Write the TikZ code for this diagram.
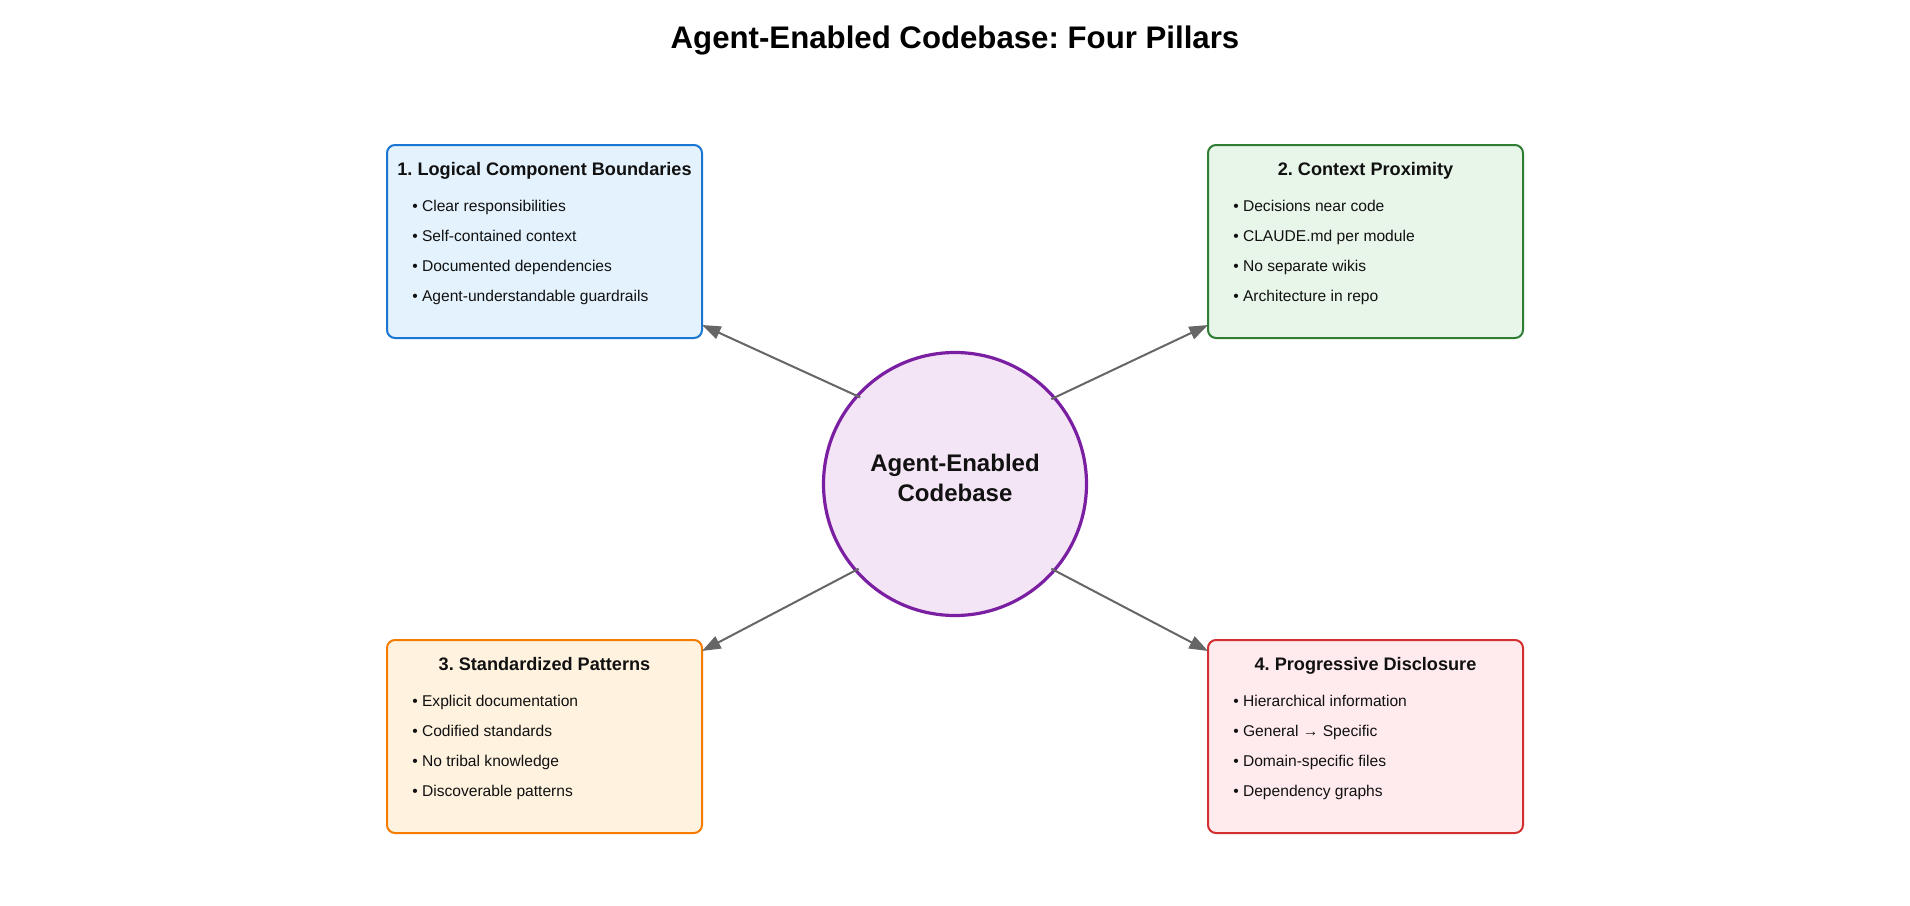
\documentclass[tikz,border=0pt]{standalone}
\usepackage{fontspec}
\setmainfont{Liberation Sans}
\usetikzlibrary{arrows.meta,calc}
\definecolor{blueb}{HTML}{1976D2}
\definecolor{bluef}{HTML}{E3F2FD}
\definecolor{greenb}{HTML}{2E7D32}
\definecolor{greenf}{HTML}{E8F5E9}
\definecolor{orangeb}{HTML}{F57C00}
\definecolor{orangef}{HTML}{FFF3E0}
\definecolor{redb}{HTML}{D32F2F}
\definecolor{redf}{HTML}{FFEBEE}
\definecolor{purpleb}{HTML}{7B1FA2}
\definecolor{purplef}{HTML}{F3E5F5}
\definecolor{linegray}{HTML}{666666}
\definecolor{txt}{HTML}{111111}
\frenchspacing
\begin{document}
\begin{tikzpicture}[x=0.75pt,y=-0.75pt,
  pillar/.style={draw, line width=1.5pt, rounded corners=6pt, minimum width=236.25pt, minimum height=144.75pt, inner sep=0pt, outer sep=0pt},
  hd/.style={font=\bfseries\fontsize{13.6pt}{16pt}\selectfont, anchor=base, inner sep=0pt, text=txt},
  itm/.style={font=\fontsize{11.7pt}{14pt}\selectfont, anchor=base west, inner sep=0pt, text=txt},
  ctext/.style={font=\bfseries\fontsize{18pt}{21pt}\selectfont, anchor=base, inner sep=0pt, text=txt},
  link/.style={draw=linegray, line width=1.5pt, shorten <=-2.5pt, -{Triangle[length=14pt,width=10pt]}}]
\fill[white] (0,0) rectangle (1910,906);
\useasboundingbox (0,0) rectangle (1910,906);

\node[font=\bfseries\fontsize{23.4pt}{28pt}\selectfont, anchor=base, inner sep=0pt] (title) at (955,49) {Agent-Enabled Codebase: Four Pillars};

% central circle
\node[circle, draw=purpleb, fill=purplef, line width=2.4pt, minimum size=197.25pt, inner sep=0pt, outer sep=0pt] (c) at (955,484) {};
\node[ctext] (c1) at (955,471) {Agent-Enabled};
\node[ctext] (c2) at (955,501) {Codebase};

% pillar 1
\node[pillar, draw=blueb, fill=bluef] (b1) at (544.5,241.5) {};
\node[hd] (h1) at (544.5,175) {1. Logical Component Boundaries};
\node[itm] (i11) at (412,211) {• Clear responsibilities};
\node[itm] (i12) at (412,241) {• Self-contained context};
\node[itm] (i13) at (412,271) {• Documented dependencies};
\node[itm] (i14) at (412,301) {• Agent-understandable guardrails};

% pillar 2
\node[pillar, draw=greenb, fill=greenf] (b2) at (1365.5,241.5) {};
\node[hd] (h2) at (1365.5,175) {2. Context Proximity};
\node[itm] (i21) at (1233,211) {• Decisions near code};
\node[itm] (i22) at (1233,241) {• CLAUDE.md per module};
\node[itm] (i23) at (1233,271) {• No separate wikis};
\node[itm] (i24) at (1233,301) {• Architecture in repo};

% pillar 3
\node[pillar, draw=orangeb, fill=orangef] (b3) at (544.5,736.5) {};
\node[hd] (h3) at (544.5,670) {3. Standardized Patterns};
\node[itm] (i31) at (412,706) {• Explicit documentation};
\node[itm] (i32) at (412,736) {• Codified standards};
\node[itm] (i33) at (412,766) {• No tribal knowledge};
\node[itm] (i34) at (412,796) {• Discoverable patterns};

% pillar 4
\node[pillar, draw=redb, fill=redf] (b4) at (1365.5,736.5) {};
\node[hd] (h4) at (1365.5,670) {4. Progressive Disclosure};
\node[itm] (i41) at (1233,706) {• Hierarchical information};
\node[itm] (i42) at (1233,736) {• General → Specific};
\node[itm] (i43) at (1233,766) {• Domain-specific files};
\node[itm] (i44) at (1233,796) {• Dependency graphs};

% connectors
\draw[link] (c.138.6) -- ($(b1.south east)+(0,-13)$);
\draw[link] (c.41.4) -- ($(b2.south west)+(0,-13)$);
\draw[link] (c.221) -- ($(b3.north east)+(0,11)$);
\draw[link] (c.319) -- ($(b4.north west)+(0,11)$);
\end{tikzpicture}
\end{document}
